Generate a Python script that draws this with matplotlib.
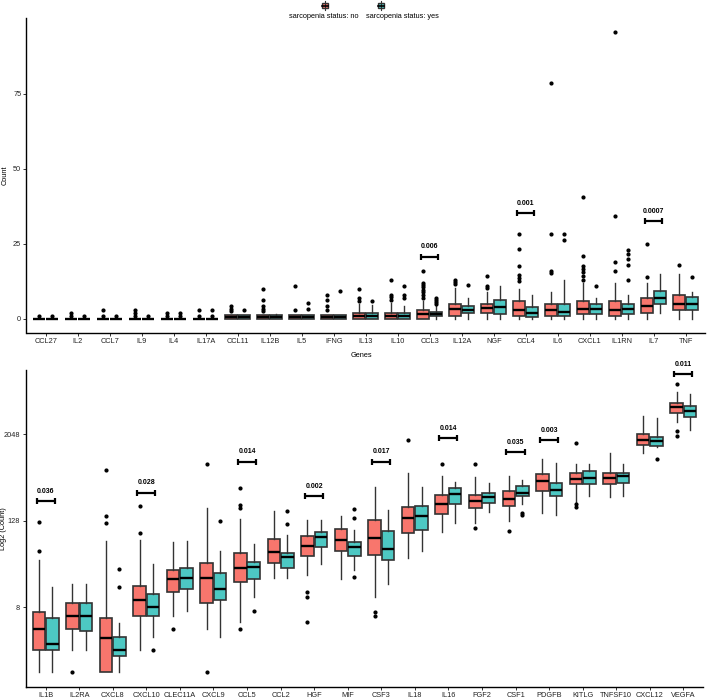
import numpy as np
import matplotlib.pyplot as plt
from matplotlib.patches import Rectangle
from matplotlib.lines import Line2D

plt.rcParams['font.family'] = ['Liberation Sans', 'DejaVu Sans']

red = '#F8766D'
teal = '#4DC8C3'
edge = '#333333'

W, H = 709, 698

# ---- top panel: raw counts ----
top_genes = ['CCL27', 'IL2', 'CCL7', 'IL9', 'IL4', 'IL17A', 'CCL11', 'IL12B', 'IL5', 'IFNG',
             'IL13', 'IL10', 'CCL3', 'IL12A', 'NGF', 'CCL4', 'IL6', 'CXCL1', 'IL1RN', 'IL7', 'TNF']

top_no_q1 = [0, 0, 0, 0, 0, 0, 0, 0, 0, 0, 0, 0, 0, 0.8, 1.8, 0.8, 0.8, 1.7, 0.8, 1.9, 2.9]
top_no_med = [0, 0, 0, 0, 0, 0, 0.5, 0.5, 0.5, 0.5, 1.0, 1.0, 1.7, 3.1, 3.4, 3.0, 3.0, 3.2, 3.0, 4.1, 4.9]
top_no_q3 = [0, 0, 0, 0, 0, 0, 1.1, 1.1, 1.1, 1.1, 2.0, 2.0, 3.0, 4.8, 5.0, 6.0, 4.8, 6.0, 6.0, 6.8, 8.0]
top_no_lo = [0] * 21
top_no_hi = [0, 0, 0, 0, 0, 0, 1.1, 1.1, 1.1, 1.1, 5.0, 5.2, 6.0, 10.2, 9.0, 10.0, 8.8, 11.8, 11.8, 11.8, 14.9]
top_no_out = [[1], [1, 1.9], [1, 3], [1, 2, 3], [1, 2], [1, 3],
              [2.4, 3.3, 4.1], [2.4, 3.3, 4.1, 6.1, 10], [3, 11], [3, 4.1, 6.1, 8],
              [6.0, 6.8, 9.9], [6.3, 7.2, 8, 13], [7, 8, 8.8, 9.6, 10.4, 11.2, 12, 16],
              [11.4, 12.2, 13], [10.2, 11, 14.1], [12.4, 13.4, 14.4, 17.7, 23.2, 28.2],
              [15.1, 15.8, 28.2, 78.4], [13, 14.2, 15.4, 16.4, 17.4, 21, 40.4],
              [16, 19, 34.3, 95.4], [14, 25], [18]]

top_yes_q1 = [0, 0, 0, 0, 0, 0, 0, 0, 0, 0, 0, 0, 0.8, 1.8, 1.7, 0.7, 0.8, 1.6, 1.6, 4.9, 2.9]
top_yes_med = [0, 0, 0, 0, 0, 0, 0.5, 0.5, 0.5, 0.5, 1.0, 1.0, 1.5, 3.0, 3.9, 1.8, 2.1, 3.2, 3.2, 6.9, 4.9]
top_yes_q3 = [0, 0, 0, 0, 0, 0, 1.1, 1.1, 1.1, 1.1, 2.0, 2.0, 2.3, 4.1, 6.1, 4.0, 4.9, 4.9, 4.9, 9.1, 7.1]
top_yes_lo = [0] * 19 + [1.9, 0]
top_yes_hi = [0, 0, 0, 0, 0, 0, 1.1, 1.5, 1.1, 1.1, 4.5, 4.1, 4.1, 7.0, 11.0, 7.9, 12.9, 6.8, 7.9, 14.9, 8.8]
top_yes_out = [[1], [1], [1], [1], [1, 2], [1, 3], [3], [], [3.3, 5.2], [9.1],
               [6], [6.9, 8, 11], [4.9, 5.6, 6.3, 7], [11.2], [], [], [26.2, 28.2],
               [11], [12.9, 18, 20, 21.7, 23], [], [14]]

top_sig_gene = ['CCL3', 'CCL4', 'IL7']
top_sig_y = [20.7, 35.1, 32.4]
top_sig_lab = ['0.006', '0.001', '0.0007']

# ---- bottom panel: values read as log2(count) ----
bot_genes = ['IL1B', 'IL2RA', 'CXCL8', 'CXCL10', 'CLEC11A', 'CXCL9', 'CCL5', 'CCL2', 'HGF', 'MIF',
             'CSF3', 'IL18', 'IL16', 'FGF2', 'CSF1', 'PDGFB', 'KITLG', 'TNFSF10', 'CXCL12', 'VEGFA']

bot_no_q1 = [1.01, 2.0, 0, 2.58, 3.68, 3.17, 4.17, 5.02, 5.36, 5.59,
             5.4, 6.44, 7.3, 7.59, 7.69, 8.38, 8.67, 8.67, 10.49, 11.97]
bot_no_med = [2.0, 2.58, 1.58, 3.32, 4.28, 4.33, 4.8, 5.54, 5.82, 6.1,
              6.18, 7.1, 7.79, 7.92, 7.99, 8.84, 8.9, 8.98, 10.74, 12.26]
bot_no_q3 = [2.78, 3.17, 2.48, 3.99, 4.74, 5.05, 5.48, 6.13, 6.31, 6.59,
             7.02, 7.64, 8.18, 8.18, 8.36, 9.15, 9.21, 9.18, 11.0, 12.43]
bot_no_lo = [0, 1.01, 0, 1.01, 2.58, 2.01, 2.32, 4.33, 4.48, 4.28,
             3.48, 5.25, 6.48, 6.87, 6.99, 7.33, 7.87, 8.07, 10.14, 11.54]
bot_no_hi = [5.17, 4.09, 6.05, 6.1, 6.0, 7.56, 7.07, 7.44, 7.05, 7.22,
             8.56, 9.21, 9.06, 9.03, 9.07, 9.87, 9.6, 10.14, 11.85, 12.96]
bot_no_out = [[5.59, 6.95], [0], [6.9, 7.2, 9.34], [6.44, 7.69], [2.01], [0, 9.61],
              [2.01, 7.6, 7.72, 8.49], [], [2.32, 3.48, 3.71], [], [2.58, 2.78], [10.72],
              [9.6], [6.64, 9.6], [6.53], [], [7.64, 7.79, 10.6], [], [], [10.9, 11.15, 13.3]]

bot_yes_q1 = [1.01, 1.91, 0.75, 2.58, 3.82, 3.32, 4.28, 4.83, 5.76, 5.37,
              5.2, 6.56, 7.79, 7.82, 8.15, 8.13, 8.67, 8.72, 10.43, 11.8]
bot_yes_med = [1.29, 2.58, 1.01, 3.02, 4.33, 3.82, 4.87, 5.33, 6.25, 5.76,
               5.67, 7.22, 8.21, 8.07, 8.29, 8.41, 8.98, 9.06, 10.66, 12.08]
bot_yes_q3 = [2.52, 3.17, 1.6, 3.63, 4.8, 4.6, 5.1, 5.51, 6.48, 5.99,
              6.53, 7.69, 8.49, 8.29, 8.61, 8.72, 9.29, 9.21, 10.88, 12.29]
bot_yes_lo = [0, 1.01, 0, 1.6, 2.82, 1.6, 3.48, 4.33, 4.99, 4.74,
              4.09, 5.6, 6.9, 7.41, 7.75, 7.25, 8.15, 8.13, 10.38, 11.2]
bot_yes_hi = [3.91, 4.09, 2.29, 4.99, 6.04, 5.6, 5.9, 6.33, 7.05, 6.56,
              7.49, 8.56, 8.8, 8.76, 8.87, 9.64, 9.6, 9.6, 11.72, 12.83]
bot_yes_out = [[], [], [3.91, 4.76], [1.01], [], [6.98], [2.82], [6.82, 7.45], [], [4.4, 7.1, 7.52],
               [], [], [], [], [7.25, 7.36], [], [], [], [9.83], []]

bot_sig_gene = ['IL1B', 'CXCL10', 'CCL5', 'HGF', 'CSF3', 'IL16', 'CSF1', 'PDGFB', 'VEGFA']
bot_sig_y = [7.9, 8.29, 9.72, 8.13, 9.72, 10.8, 10.15, 10.72, 13.76]
bot_sig_lab = ['0.036', '0.028', '0.014', '0.002', '0.017', '0.014', '0.035', '0.003', '0.011']


def make_stats(q1, med, q3, lo, hi, out, f=lambda v: np.asarray(v, dtype=float)):
    res = []
    for i in range(len(q1)):
        res.append(dict(q1=f(q1[i]), med=f(med[i]), q3=f(q3[i]),
                        whislo=f(lo[i]), whishi=f(hi[i]), fliers=f(out[i])))
    return res


def draw_boxes(ax, stats, pos, color):
    ax.bxp(stats, positions=pos, widths=0.375, patch_artist=True, showcaps=False,
           boxprops=dict(facecolor=color, edgecolor=edge, linewidth=1.2),
           medianprops=dict(color='black', linewidth=1.7),
           whiskerprops=dict(color=edge, linewidth=1.0),
           flierprops=dict(marker='o', markersize=2.0, markerfacecolor='black',
                           markeredgecolor='black', linestyle='none'))


def style(ax, genes):
    for s in ['top', 'right']:
        ax.spines[s].set_visible(False)
    for s in ['left', 'bottom']:
        ax.spines[s].set_linewidth(1.0)
        ax.spines[s].set_color('black')
    ax.set_xticks(np.arange(len(genes)))
    ax.set_xticklabels(genes)
    ax.set_xlim(-0.6, len(genes) - 0.4)
    ax.tick_params(axis='both', labelsize=5.3, length=2, width=0.7, pad=1.8,
                   color='#333333', labelcolor='#222222')


fig = plt.figure(figsize=(W / 100, H / 100), dpi=100)

# top panel
ax1 = fig.add_axes([26.5 / W, 1 - 333 / H, (705 - 26.5) / W, (333 - 18) / H])
xt = np.arange(len(top_genes))
draw_boxes(ax1, make_stats(top_no_q1, top_no_med, top_no_q3, top_no_lo, top_no_hi, top_no_out), xt - 0.2, red)
draw_boxes(ax1, make_stats(top_yes_q1, top_yes_med, top_yes_q3, top_yes_lo, top_yes_hi, top_yes_out), xt + 0.2, teal)
style(ax1, top_genes)
ax1.set_ylim(-4.77, 100.2)
ax1.set_yticks([0, 25, 50, 75])
for g, y, lab in zip(top_sig_gene, top_sig_y, top_sig_lab):
    x = top_genes.index(g)
    ax1.errorbar(x, y, xerr=0.27, fmt='none', ecolor='black', elinewidth=1.6, capsize=2.4, capthick=1.6)
    ax1.annotate(lab, (x, y), xytext=(0, 4.5), textcoords='offset points', ha='center', va='bottom',
                 fontsize=5, fontweight='bold', annotation_clip=False)
ax1.set_ylabel('Count', fontsize=5.3)
ax1.yaxis.set_label_coords(-0.026, 0.5)
ax1.set_xlabel('Genes', fontsize=5.3)
ax1.xaxis.set_label_coords(0.494, -0.06)

# bottom panel
ax2 = fig.add_axes([25.5 / W, 1 - 687 / H, (703.5 - 25.5) / W, (687 - 370) / H])
xb = np.arange(len(bot_genes))
f2 = lambda v: np.power(2.0, np.asarray(v, dtype=float))
draw_boxes(ax2, make_stats(bot_no_q1, bot_no_med, bot_no_q3, bot_no_lo, bot_no_hi, bot_no_out, f2), xb - 0.2, red)
draw_boxes(ax2, make_stats(bot_yes_q1, bot_yes_med, bot_yes_q3, bot_yes_lo, bot_yes_hi, bot_yes_out, f2), xb + 0.2, teal)
ax2.set_yscale('log', base=2)
style(ax2, bot_genes)
ax2.set_ylim(2 ** -0.69, 2 ** 13.96)
ax2.set_yticks([8, 128, 2048])
ax2.set_yticklabels(['8', '128', '2048'])
ax2.minorticks_off()
for g, y, lab in zip(bot_sig_gene, bot_sig_y, bot_sig_lab):
    x = bot_genes.index(g)
    ax2.errorbar(x, 2 ** y, xerr=0.27, fmt='none', ecolor='black', elinewidth=1.6, capsize=2.4, capthick=1.6)
    ax2.annotate(lab, (x, 2 ** y), xytext=(0, 4.5), textcoords='offset points', ha='center', va='bottom',
                 fontsize=5, fontweight='bold', annotation_clip=False)
ax2.set_ylabel('Log2 (Count)', fontsize=5.3)
ax2.yaxis.set_label_coords(-0.027, 0.5)


# legend, keys above labels like the ggplot original
def key(cx, cy, color):
    tr = fig.transFigure
    fig.add_artist(Line2D([cx / W, cx / W], [1 - (cy - 4.5) / H, 1 - (cy + 4.5) / H],
                          color=edge, lw=0.8, transform=tr))
    fig.add_artist(Rectangle(((cx - 3.3) / W, 1 - (cy + 2.6) / H), 6.6 / W, 5.2 / H,
                             facecolor=color, edgecolor=edge, lw=1.0, transform=tr))
    fig.add_artist(Line2D([(cx - 3.3) / W, (cx + 3.3) / W], [1 - cy / H, 1 - cy / H],
                          color='black', lw=1.2, transform=tr))


key(325, 5.5, red)
key(381, 5.5, teal)
fig.text(324 / W, 1 - 16.7 / H, 'sarcopenia status: no', ha='center', va='center', fontsize=5.3)
fig.text(402.5 / W, 1 - 16.7 / H, 'sarcopenia status: yes', ha='center', va='center', fontsize=5.3)

fig.savefig('out.png', dpi=100)
